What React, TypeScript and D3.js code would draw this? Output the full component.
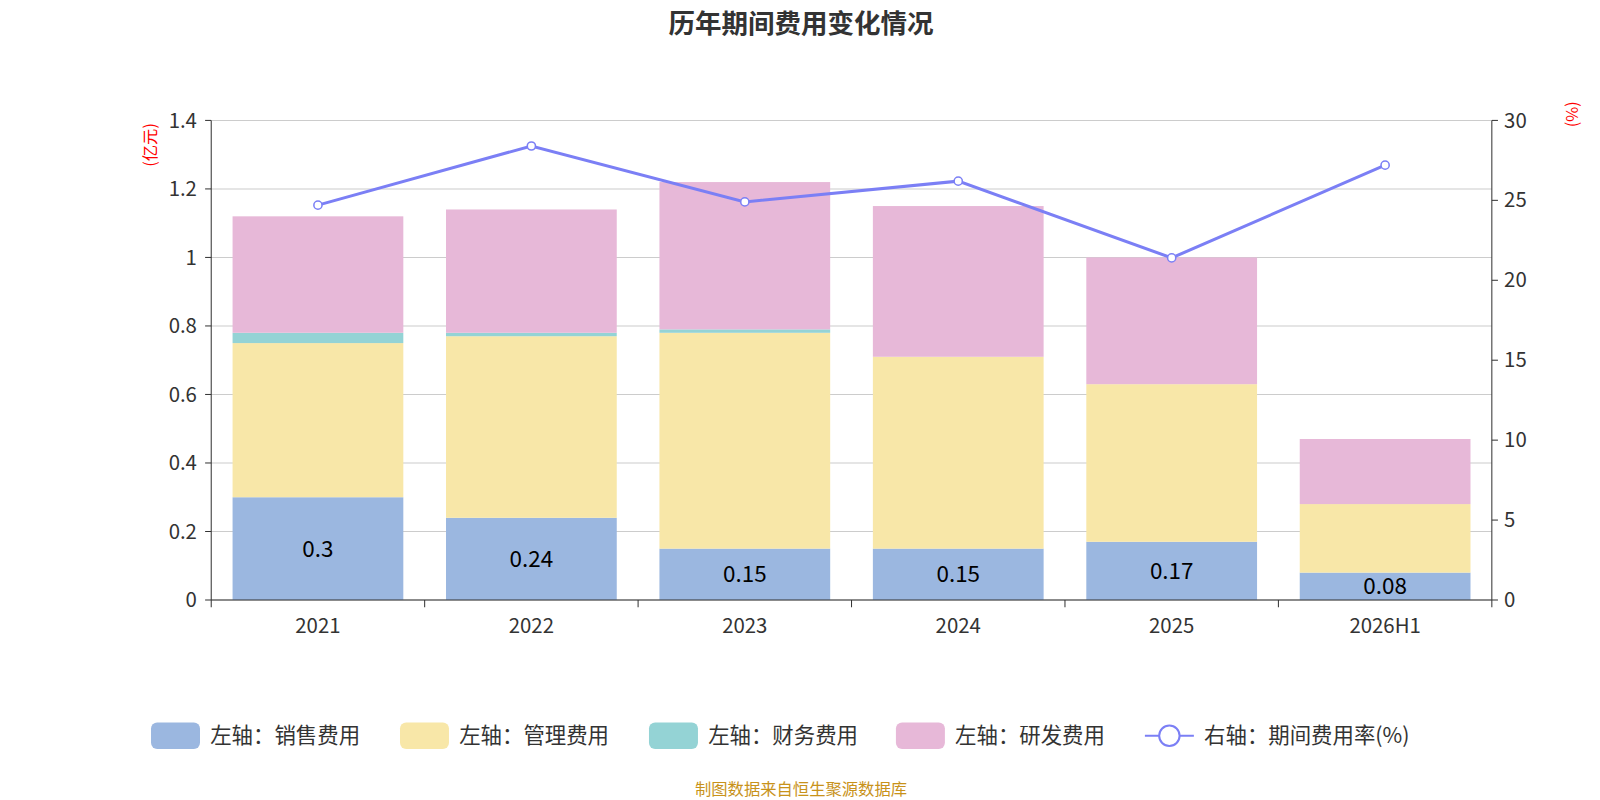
import React from 'react';
import * as d3 from 'd3';

const years = ['2021', '2022', '2023', '2024', '2025', '2026H1'];
const sales = [0.3, 0.24, 0.15, 0.15, 0.17, 0.08];
const admin = [0.45, 0.53, 0.63, 0.56, 0.46, 0.2];
const finance = [0.03, 0.01, 0.01, 0.0, 0.0, 0.0];
const rnd = [0.34, 0.36, 0.43, 0.44, 0.37, 0.19];
const rate = [24.7, 28.4, 24.9, 26.2, 21.4, 27.2];
const leftTicks = [0, 0.2, 0.4, 0.6, 0.8, 1, 1.2, 1.4];
const rightTicks = [0, 5, 10, 15, 20, 25, 30];

const seriesNames = ['左轴：销售费用', '左轴：管理费用', '左轴：财务费用', '左轴：研发费用'];
const colors = ['#9bb7e0', '#f8e7a8', '#94d3d5', '#e7b8d8'];
const lineColor = '#7b7ff5';

const App = () => {
  // reference coordinates are on a 1568x784 grid
  const W = 1568, H = 784;
  const mL = 207, mR = 1462, top = 118, bottom = 588;
  const x = d3.scaleBand().domain(years).range([mL, mR]).paddingInner(0.2).paddingOuter(0.1);
  const yL = d3.scaleLinear().domain([0, 1.4]).range([bottom, top]);
  const yR = d3.scaleLinear().domain([0, 30]).range([bottom, top]);
  const stackData = years.map((y, i) => ({ year: y, s0: sales[i], s1: admin[i], s2: finance[i], s3: rnd[i] }));
  const stacked = d3.stack<any>().keys(['s0', 's1', 's2', 's3'])(stackData);
  const step = (mR - mL) / years.length;
  const line = d3.line<number>().x((_, i) => x(years[i])! + x.bandwidth() / 2).y(d => yR(d));
  const font = '"Noto Sans CJK SC", "Noto Sans", sans-serif';
  const legendX = [148, 392, 636, 878, 1122];

  return (
    <svg width={1600} height={800} viewBox={`0 0 ${W} ${H}`} style={{ position: 'absolute', left: 0, top: 0, fontFamily: font }}>
      <text x={785} y={32} textAnchor="middle" fontSize={26} fontWeight="bold" fill="#333">历年期间费用变化情况</text>
      {leftTicks.map(t => (
        <g key={t}>
          <line x1={mL} x2={mR} y1={yL(t)} y2={yL(t)} stroke="#ccc" />
          <line x1={mL - 6} x2={mL} y1={yL(t)} y2={yL(t)} stroke="#333" />
          <text x={mL - 14} y={yL(t) + 7} textAnchor="end" fontSize={20} fill="#333">{t}</text>
        </g>
      ))}
      {rightTicks.map(t => (
        <g key={t}>
          <line x1={mR} x2={mR + 6} y1={yR(t)} y2={yR(t)} stroke="#333" />
          <text x={mR + 12} y={yR(t) + 7} fontSize={20} fill="#333">{t}</text>
        </g>
      ))}
      {stacked.map((s, k) => s.map((d, i) => (
        <rect key={k + '-' + i} x={x(years[i])} width={x.bandwidth()} y={yL(d[1])} height={Math.max(0, yL(d[0]) - yL(d[1]))} fill={colors[k]} />
      )))}
      {sales.map((v, i) => (
        <text key={i} x={x(years[i])! + x.bandwidth() / 2} y={yL(v / 2) + 8} textAnchor="middle" fontSize={22} fill="#000">{v}</text>
      ))}
      <line x1={mL} x2={mL} y1={top} y2={bottom} stroke="#333" />
      <line x1={mR} x2={mR} y1={top} y2={bottom} stroke="#333" />
      <line x1={mL} x2={mR} y1={bottom} y2={bottom} stroke="#333" />
      {d3.range(years.length + 1).map(i => (
        <line key={i} x1={mL + i * step} x2={mL + i * step} y1={bottom} y2={bottom + 7} stroke="#333" />
      ))}
      {years.map(y => (
        <text key={y} x={x(y)! + x.bandwidth() / 2} y={620} textAnchor="middle" fontSize={20} fill="#333">{y}</text>
      ))}
      <path d={line(rate)!} fill="none" stroke={lineColor} strokeWidth={3} />
      {rate.map((v, i) => (
        <circle key={i} cx={x(years[i])! + x.bandwidth() / 2} cy={yR(v)} r={4} fill="#fff" stroke={lineColor} strokeWidth={1.5} />
      ))}
      <text transform="translate(153,142) rotate(-90)" textAnchor="middle" fontSize={16} fill="red">(亿元)</text>
      <text transform="translate(1546,112) rotate(-90)" textAnchor="middle" fontSize={16} fill="red">(%)</text>
      {seriesNames.map((n, i) => (
        <g key={n}>
          <rect x={legendX[i]} y={708} width={48} height={26} rx={6} fill={colors[i]} />
          <text x={legendX[i] + 58} y={728} fontSize={21} fill="#333">{n}</text>
        </g>
      ))}
      <line x1={legendX[4]} x2={legendX[4] + 48} y1={721} y2={721} stroke={lineColor} strokeWidth={2} />
      <circle cx={legendX[4] + 24} cy={721} r={10} fill="#fff" stroke={lineColor} strokeWidth={2} />
      <text x={legendX[4] + 58} y={728} fontSize={21} fill="#333">右轴：期间费用率(%)</text>
      <text x={785} y={779} textAnchor="middle" fontSize={16} fill="#c8921a">制图数据来自恒生聚源数据库</text>
    </svg>
  );
};

export default App;
